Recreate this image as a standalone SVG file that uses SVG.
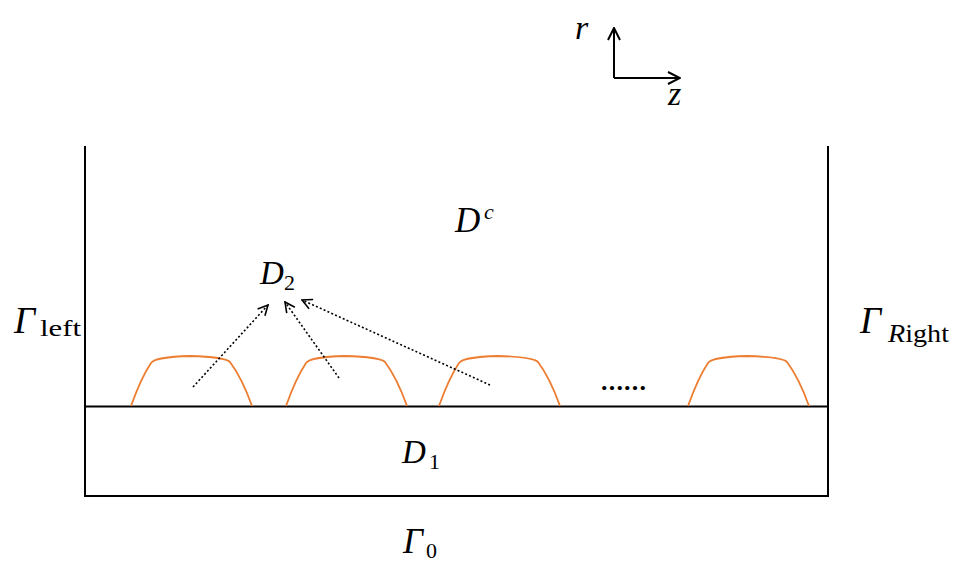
<svg xmlns="http://www.w3.org/2000/svg" width="967" height="572" viewBox="0 0 967 572">
<style>
.ln{stroke:#000;stroke-width:2;fill:none}
.bump{stroke:#ED7D31;stroke-width:1.8;fill:none}
.dot{stroke:#000;stroke-width:1.6;fill:none;stroke-dasharray:2 2.2}
.ax{stroke:#000;stroke-width:2;fill:none}
.m{font-family:"Liberation Serif","DejaVu Serif",serif;font-style:italic;fill:#000}
.u{font-family:"Liberation Serif","DejaVu Serif",serif;fill:#000}
</style>
<defs>
<marker id="oa" viewBox="0 0 12 12" refX="11" refY="6" markerWidth="12" markerHeight="12" markerUnits="userSpaceOnUse" orient="auto">
<path d="M1,1 L11,6 L1,11" fill="none" stroke="#000" stroke-width="1.6"/>
</marker>
<marker id="ax" viewBox="0 0 14 14" refX="13" refY="7" markerWidth="14" markerHeight="14" markerUnits="userSpaceOnUse" orient="auto">
<path d="M1,1 L13,7 L1,13" fill="none" stroke="#000" stroke-width="2"/>
</marker>
<path id="bp" d="M0,0 Q10,-28 20,-43 Q24,-49 59,-50 Q94,-49 99,-44 Q111,-28 121,0"/>
</defs>
<g id="domain">
<path class="ln" d="M85,146 V496 H828 V146"/>
<path class="ln" d="M85,406.5 H828"/>
</g>
<g id="bumps">
<use href="#bp" class="bump" transform="translate(131,406)"/>
<use href="#bp" class="bump" transform="translate(286,406)"/>
<use href="#bp" class="bump" transform="translate(439,406)"/>
<use href="#bp" class="bump" transform="translate(688,406)"/>
</g>
<g id="connectors">
<path class="dot" d="M193,387 L268,305" marker-end="url(#oa)"/>
<path class="dot" d="M339,378 L285,302" marker-end="url(#oa)"/>
<path class="dot" d="M490,385 L302,300" marker-end="url(#oa)"/>
</g>
<g id="axes">
<path class="ax" d="M614,78 V28" marker-end="url(#ax)"/>
<path class="ax" d="M614,78 H680" marker-end="url(#ax)"/>
<text class="m" x="575" y="39" font-size="34">r</text>
<text class="m" x="668" y="105" font-size="34">z</text>
</g>
<g id="labels">
<text class="m" x="455" y="232" font-size="35">D</text>
<text class="m" x="484" y="219" font-size="22">c</text>
<text class="m" x="260" y="284" font-size="33">D</text>
<text class="u" x="284" y="290" font-size="22">2</text>
<text class="m" x="14" y="333" font-size="37">Γ</text>
<text class="u" x="40" y="336" font-size="24" textLength="41" lengthAdjust="spacingAndGlyphs">left</text>
<text class="m" x="860" y="333" font-size="37">Γ</text>
<text x="888" y="342" font-size="25" textLength="61" lengthAdjust="spacingAndGlyphs"><tspan class="m">R</tspan><tspan class="u">ight</tspan></text>
<text class="u" x="601" y="390" font-size="26" letter-spacing="1.2" font-weight="bold">......</text>
<text class="m" x="402" y="463" font-size="33">D</text>
<text class="u" x="429" y="469" font-size="22">1</text>
<text class="m" x="403" y="553" font-size="35">Γ</text>
<text class="u" x="426" y="558" font-size="22">0</text>
</g>
</svg>
